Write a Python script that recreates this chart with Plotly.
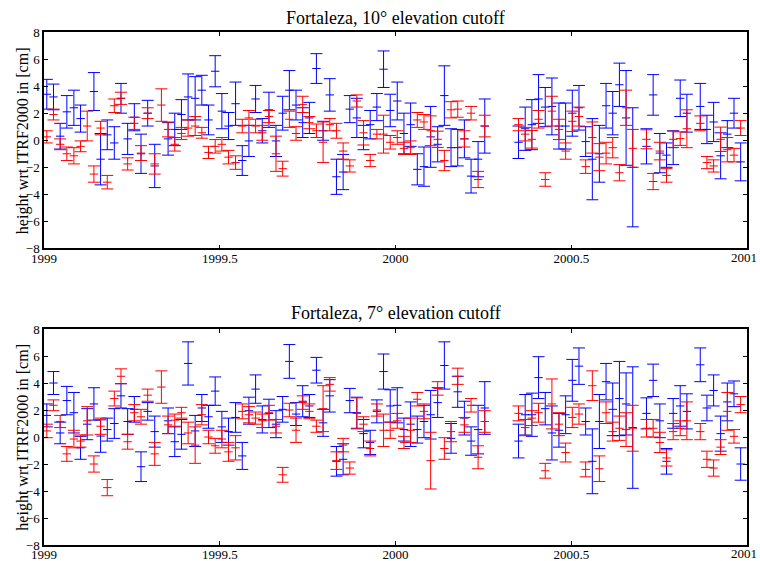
import plotly.graph_objects as go

# weekly solution epochs (decimal years)
epochs = [
    1999.008, 1999.027, 1999.046, 1999.065, 1999.085, 1999.104, 1999.123, 1999.142, 1999.161, 1999.180,
    1999.200, 1999.219, 1999.238, 1999.257, 1999.276, 1999.295, 1999.315, 1999.334, 1999.353, 1999.372,
    1999.391, 1999.410, 1999.430, 1999.449, 1999.468, 1999.487, 1999.506, 1999.525, 1999.545, 1999.564,
    1999.583, 1999.602, 1999.621, 1999.640, 1999.660, 1999.679, 1999.698, 1999.717, 1999.736, 1999.755,
    1999.775, 1999.794, 1999.813, 1999.832, 1999.851, 1999.870, 1999.890, 1999.909, 1999.928, 1999.947,
    1999.966, 1999.985, 2000.005, 2000.024, 2000.043, 2000.062, 2000.081, 2000.100, 2000.120, 2000.139,
    2000.158, 2000.177, 2000.196, 2000.215, 2000.235, 2000.254, 2000.273, 2000.292, 2000.311, 2000.330,
    2000.350, 2000.369, 2000.388, 2000.407, 2000.426, 2000.445, 2000.465, 2000.484, 2000.503, 2000.522,
    2000.541, 2000.560, 2000.580, 2000.599, 2000.618, 2000.637, 2000.656, 2000.675, 2000.695, 2000.714,
    2000.733, 2000.752, 2000.771, 2000.790, 2000.810, 2000.829, 2000.848, 2000.867, 2000.886, 2000.905,
    2000.925, 2000.944, 2000.963, 2000.982,
]

# 10 deg cutoff
blue10 = [
    3.4, 3.2, 0.3, 2.1, 2.4, 1.6, None, 3.6, -1.4, 0.4,
    -0.2, 3.1, 0.1, 1.7, -1.0, 2.0, -1.9, None, 0.1, 0.8,
    1.9, 3.2, 3.1, 3.7, 1.5, 5.1, 2.15, 1.05, 2.7, -1.5,
    -0.05, 3.05, 0.7, 2.25, -0.05, 2.0, 3.7, 2.6, 1.3, 1.65,
    5.3, 0.7, 3.35, -2.7, -2.35, 2.3, 1.65, 0.2, 1.15, 2.45,
    5.25, 2.2, 2.9, 0.5, 1.15, -2.15, -1.95, 0.25, -0.3, 3.3,
    -0.55, -0.55, 0.1, -2.65, -1.4, 1.05, None, None, None, None,
    -0.15, 0.85, 1.15, 3.05, 2.45, 2.5, 1.05, 1.05, 2.0, 2.4,
    -0.1, -1.4, -1.0, 2.55, 2.0, 4.1, 1.65, -2.0, None, -0.45,
    3.35, -0.95, -1.1, -0.55, 3.1, 2.0, None, 2.5, 0.8, 1.35,
    -1.15, 0.45, 2.0, -1.6,
]
blue10_err = [
    1.1, 0.95, 0.95, 1.2, 1.3, 1.0, 0, 1.4, 1.9, 1.1,
    1.2, 1.1, 1.15, 1.0, 1.45, 0.95, 1.6, 0, 1.2, 1.2,
    1.1, 1.7, 1.6, 1.1, 1.1, 1.15, 1.3, 1.0, 1.6, 1.1,
    1.15, 1.0, 0.9, 1.3, 1.15, 1.25, 1.45, 1.1, 1.1, 1.15,
    1.1, 0.7, 1.2, 1.3, 1.3, 1.0, 1.45, 0.9, 1.05, 1.0,
    1.35, 1.2, 1.4, 1.5, 1.6, 1.15, 1.45, 2.25, 1.3, 2.2,
    1.4, 1.35, 1.4, 1.25, 1.3, 2.0, 0, 0, 0, 0,
    1.2, 1.6, 1.85, 1.8, 1.45, 2.1, 1.7, 1.7, 1.7, 1.65,
    1.1, 3.0, 2.1, 1.65, 1.6, 1.6, 3.5, 4.4, 0, 1.3,
    1.5, 1.45, 0.9, 1.25, 1.35, 1.4, 0, 1.7, 1.05, 1.45,
    1.7, 1.0, 1.1, 1.4,
]
red10 = [
    0.25, 1.9, -0.3, -1.0, -1.15, -0.45, 1.05, -2.5, 0.9, -3.1,
    2.55, 3.1, -1.75, 1.25, -0.95, 2.0, -1.75, 2.6, 0.8, -0.3,
    0.5, 0.9, 1.05, 0.55, -0.9, -0.45, -0.3, -1.25, -1.65, 1.05,
    1.65, 1.05, 0.55, 1.75, -1.0, -2.1, 1.55, 0.5, 2.65, 1.3,
    0.7, -0.15, 1.15, 0.7, -0.8, -1.9, 2.9, 0.55, -1.5, 0.45,
    0.45, -0.15, 0.2, -0.6, -0.55, 1.5, 1.35, 0.7, 0.07, -1.5,
    2.25, 2.3, 0.1, 2.0, -2.9, 1.05, None, None, None, None,
    1.15, 0.45, 0.07, 1.55, -2.9, 2.15, 0.8, -0.8, 1.4, 1.75,
    -1.95, 0.2, -1.25, -0.95, -0.55, -2.4, 2.4, -0.6, None, 0.07,
    -3.05, -0.8, -2.6, 0.07, 0.12, 0.85, None, 1.25, -1.65, -1.9,
    0.07, -0.7, -1.1, 0.9,
]
red10_err = [
    0.45, 0.4, 0.4, 0.5, 0.6, 0.4, 1.1, 0.6, 0.5, 0.5,
    0.5, 0.45, 0.45, 0.45, 0.55, 0.4, 0.75, 1.2, 0.55, 0.5,
    0.45, 0.6, 0.7, 0.4, 0.45, 0.5, 0.5, 0.5, 0.5, 0.5,
    0.55, 0.5, 0.55, 0.45, 1.3, 0.55, 0.6, 0.5, 0.6, 0.45,
    0.5, 1.5, 0.45, 0.55, 0.6, 0.45, 0.45, 0.9, 0.45, 0.35,
    1.4, 0.5, 0.5, 0.45, 0.5, 0.55, 0.55, 1.1, 0.6, 0.75,
    0.6, 0.6, 0.6, 0.5, 0.6, 0.8, 0, 0, 0, 0,
    0.45, 0.5, 0.65, 0.65, 0.5, 1.1, 0.75, 0.6, 0.75, 0.7,
    0.5, 1.15, 1.0, 0.8, 0.75, 0.6, 1.3, 1.4, 0, 0.7,
    0.6, 0.65, 0.5, 0.6, 0.5, 1.4, 0, 0.55, 0.45, 0.45,
    0.9, 0.9, 0.5, 0.55,
]

# 7 deg cutoff
blue7 = [
    1.6, 4.0, 0.3, 2.7, 1.8, -0.8, 0.95, 2.45, 0.07, 0.55,
    1.0, 3.05, 1.15, 2.05, -2.2, 1.9, 0.4, None, 1.2, -0.35,
    0.2, 5.45, 0.45, 2.15, 1.5, 3.4, 0.75, 0.4, 1.45, -1.4,
    1.95, 3.55, 1.3, 1.75, 0.95, 2.05, 5.6, 1.7, 2.65, 2.3,
    4.95, 1.05, 3.05, -1.8, -1.65, 2.7, 1.8, 0.25, -0.4, 1.9,
    4.85, 2.3, 2.35, 0.55, 0.95, 0.55, 1.15, 1.65, 2.55, 5.3,
    -0.1, 3.35, 1.4, -0.3, 0.55, 2.15, None, None, None, None,
    -0.3, 1.65, 1.65, 4.4, 2.1, 0.3, 0.5, 1.65, 4.2, 5.25,
    1.15, -1.8, 1.15, 4.1, 2.05, 2.85, 2.45, 0.7, None, 1.75,
    4.2, 1.2, -1.8, 1.75, 2.3, 1.9, None, 5.35, 2.15, 3.45,
    0.25, 2.6, 3.2, -2.0,
]
blue7_err = [
    0.85, 0.85, 0.8, 1.05, 1.5, 0.85, 1.15, 1.2, 1.2, 0.85,
    1.1, 0.9, 0.95, 0.95, 1.1, 0.65, 1.15, 0, 0.95, 1.1,
    1.1, 1.6, 1.15, 1.0, 0.85, 1.05, 1.15, 1.0, 1.1, 1.0,
    1.0, 1.05, 1.0, 1.05, 1.0, 0.95, 1.25, 0.85, 1.15, 0.85,
    0.95, 1.0, 1.2, 1.1, 1.15, 0.9, 1.15, 1.05, 0.9, 0.85,
    1.3, 1.2, 1.3, 0.85, 1.65, 1.0, 1.2, 1.8, 1.1, 1.75,
    1.1, 1.15, 1.25, 1.05, 1.8, 1.95, 0, 0, 0, 0,
    1.25, 1.5, 1.6, 1.55, 1.2, 2.0, 1.25, 1.4, 1.55, 1.35,
    1.0, 2.4, 2.0, 1.35, 1.95, 2.75, 2.3, 4.5, 0, 1.15,
    1.2, 1.25, 0.95, 1.1, 1.5, 1.3, 0, 1.25, 0.95, 1.15,
    1.3, 1.4, 0.95, 1.2,
]
red7 = [
    0.45, 2.35, 1.15, -1.25, -0.15, -0.3, 1.2, -2.0, 0.8, -3.75,
    2.85, 4.5, -0.35, 1.8, 1.5, 3.1, -1.25, 3.7, 0.9, 1.25,
    1.8, 0.3, -0.6, 1.65, 0.0, -0.65, -0.15, -1.1, -0.8, 1.9,
    1.65, 1.4, 1.2, 1.8, 0.8, -2.8, 2.0, 0.5, 2.55, 1.9,
    0.8, 2.1, 3.9, -1.75, -0.6, -2.3, 1.75, 0.95, -0.85, 2.0,
    0.5, 0.5, 1.2, -0.4, 0.5, 2.8, 1.9, -1.75, 3.6, -0.85,
    0.4, 4.5, 0.9, 2.35, -1.5, 1.15, None, None, None, None,
    1.75, 0.7, 1.4, 1.8, -2.5, 2.45, 0.95, -1.15, 1.45, 1.7,
    -2.4, 3.8, -2.35, 1.8, 0.4, 0.65, 0.55, 0.65, None, 0.65,
    0.65, -0.4, -1.55, 0.4, 0.65, 1.2, None, 0.4, -1.65, -2.3,
    -0.75, 1.9, 0.05, 2.4,
]
red7_err = [
    0.5, 0.4, 0.45, 0.55, 0.65, 0.45, 1.05, 0.6, 0.6, 0.6,
    0.55, 0.55, 0.55, 0.6, 0.55, 0.45, 0.85, 1.2, 0.65, 0.45,
    0.4, 0.8, 1.35, 0.75, 0.5, 0.55, 0.65, 0.7, 0.9, 0.55,
    0.6, 0.45, 0.5, 0.55, 0.5, 0.55, 0.5, 0.9, 0.5, 0.55,
    0.45, 1.7, 0.5, 0.65, 0.5, 0.45, 1.15, 0.55, 0.55, 0.45,
    1.2, 0.6, 0.55, 0.45, 0.9, 0.5, 0.55, 2.1, 0.5, 0.8,
    0.75, 0.6, 0.55, 0.5, 0.85, 0.8, 0, 0, 0, 0,
    0.55, 0.6, 0.55, 0.7, 0.55, 1.85, 0.85, 0.7, 0.75, 0.75,
    0.55, 1.1, 0.95, 0.8, 0.7, 0.9, 1.25, 1.7, 0, 0.65,
    0.65, 0.75, 0.6, 0.6, 0.55, 1.4, 0, 0.6, 0.6, 0.6,
    0.55, 1.4, 0.5, 0.6,
]

panel_titles = ["Fortaleza, 10\u00b0 elevation cutoff", "Fortaleza, 7\u00b0 elevation cutoff"]
ylabel = "height wrt ITRF2000 in [cm]"
xticks = [1999, 1999.5, 2000, 2000.5, 2001]
# the last label sits at the page edge, so it is drawn as an annotation instead
xticklabels = ["1999", "1999.5", "2000", "2000.5", ""]
last_xlabel = "2001"

FONT = "Liberation Serif, Times New Roman, serif"

fig = go.Figure()


def add_series(y, err, color, xa, ya):
    fig.add_trace(go.Scatter(
        x=epochs, y=y, mode="markers", xaxis=xa, yaxis=ya, showlegend=False,
        marker=dict(symbol="line-ew", size=6, color=color, line=dict(color=color, width=1)),
        error_y=dict(type="data", array=err, color=color, thickness=1, width=6),
        cliponaxis=True,
    ))


add_series(blue10, blue10_err, "#0000ff", "x", "y")
add_series(red10, red10_err, "#ff0000", "x", "y")
add_series(blue7, blue7_err, "#0000ff", "x2", "y2")
add_series(red7, red7_err, "#ff0000", "x2", "y2")

axis_common = dict(
    showline=True, linecolor="black", linewidth=1.5, mirror="allticks",
    ticks="inside", ticklen=4, tickcolor="black", showgrid=False, zeroline=False,
    automargin=False, tickfont=dict(family=FONT, size=13, color="black"),
)

fig.update_layout(
    width=760, height=561,
    margin=dict(l=44, r=13, t=32, b=16),
    paper_bgcolor="white", plot_bgcolor="white",
    xaxis=dict(domain=[0, 1], anchor="y", range=[1999, 2001], tickvals=xticks,
               ticktext=xticklabels, ticklabelstandoff=-3, **axis_common),
    yaxis=dict(domain=[0.578, 1], anchor="x", range=[-8, 8], tickvals=list(range(-8, 9, 2)),
               **axis_common),
    xaxis2=dict(domain=[0, 1], anchor="y2", range=[1999, 2001], tickvals=xticks,
                ticktext=xticklabels, ticklabelstandoff=-3, **axis_common),
    yaxis2=dict(domain=[0, 0.421], anchor="x2", range=[-8, 8], tickvals=list(range(-8, 9, 2)),
                **axis_common),
)

annotations = [
    dict(text=panel_titles[0], x=0.5, y=1.027, xref="paper", yref="paper",
         xanchor="center", yanchor="middle", showarrow=False,
         font=dict(family=FONT, size=18, color="black")),
    dict(text=panel_titles[1], x=0.5, y=0.452, xref="paper", yref="paper",
         xanchor="center", yanchor="middle", showarrow=False,
         font=dict(family=FONT, size=18, color="black")),
    dict(text=ylabel, x=-0.030, y=0.789, xref="paper", yref="paper", textangle=-90,
         xanchor="center", yanchor="middle", showarrow=False,
         font=dict(family=FONT, size=16, color="black")),
    dict(text=ylabel, x=-0.030, y=0.211, xref="paper", yref="paper", textangle=-90,
         xanchor="center", yanchor="middle", showarrow=False,
         font=dict(family=FONT, size=16, color="black")),
    dict(text=last_xlabel, x=1.0175, y=0.5595, xref="paper", yref="paper",
         xanchor="right", yanchor="middle", showarrow=False,
         font=dict(family=FONT, size=13, color="black")),
    dict(text=last_xlabel, x=1.0175, y=-0.0175, xref="paper", yref="paper",
         xanchor="right", yanchor="middle", showarrow=False,
         font=dict(family=FONT, size=13, color="black")),
]
fig.update_layout(annotations=annotations)

# drop the default 8px page margin so the figure fills the window exactly
fig.write_html("out.html", config={"displayModeBar": False},
               post_script="document.body.style.margin='0';")
